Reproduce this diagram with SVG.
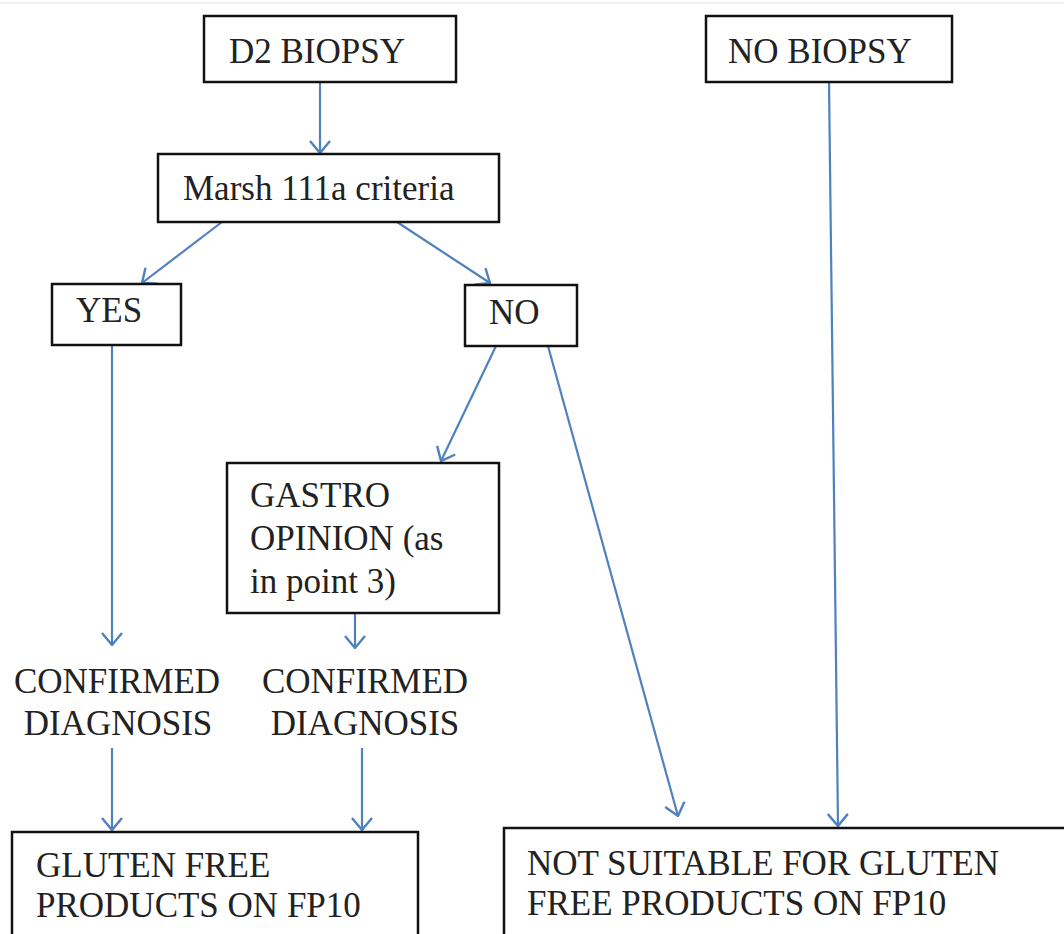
<svg xmlns="http://www.w3.org/2000/svg" width="1064" height="934" viewBox="0 0 1064 934">
<defs>
<style>
.box{fill:#fff;stroke:#111;stroke-width:2.5}
.t{font-family:'Liberation Serif','DejaVu Serif',serif;font-size:35px;fill:#222}
.c{stroke:#4f81bd;stroke-width:2.2;fill:none;marker-end:url(#ah)}
</style>
<marker id="ah" viewBox="0 0 14 22" refX="13" refY="11" markerWidth="14" markerHeight="22" markerUnits="userSpaceOnUse" orient="auto">
<path d="M1,1 L13,11 L1,21" fill="none" stroke="#4f81bd" stroke-width="2.4"/>
</marker>
</defs>
<rect width="1064" height="934" fill="#fff"/>
<line x1="0" y1="3" x2="1064" y2="3" stroke="#eee" stroke-width="2"/>
<g id="connectors">
<line class="c" x1="320" y1="82" x2="320" y2="153"/>
<line class="c" x1="222" y1="222" x2="142" y2="283"/>
<line class="c" x1="397" y1="222" x2="490" y2="283"/>
<line class="c" x1="112" y1="345" x2="112" y2="645"/>
<line class="c" x1="496" y1="346" x2="441" y2="461"/>
<line class="c" x1="548" y1="346" x2="678" y2="816"/>
<line class="c" x1="355" y1="613" x2="355" y2="648"/>
<line class="c" x1="112" y1="748" x2="112" y2="830"/>
<line class="c" x1="362" y1="748" x2="362" y2="830"/>
<line class="c" x1="829" y1="82" x2="838" y2="826"/>
</g>
<g id="d2biopsy">
<rect class="box" x="204" y="16" width="252" height="66"/>
<text class="t" x="229" y="63" font-family="Liberation Serif">D2 BIOPSY</text>
</g>
<g id="nobiopsy">
<rect class="box" x="706" y="16" width="246" height="66"/>
<text class="t" x="728" y="63">NO BIOPSY</text>
</g>
<g id="marsh">
<rect class="box" x="158" y="154" width="341" height="68"/>
<text class="t" x="183" y="200">Marsh 111a criteria</text>
</g>
<g id="yes">
<rect class="box" x="52" y="284" width="129" height="61"/>
<text class="t" x="76" y="322">YES</text>
</g>
<g id="no">
<rect class="box" x="465" y="285" width="112" height="61"/>
<text class="t" x="489" y="324">NO</text>
</g>
<g id="gastro">
<rect class="box" x="227" y="463" width="272" height="150"/>
<text class="t" x="250" y="507">GASTRO</text>
<text class="t" x="250" y="550">OPINION (as</text>
<text class="t" x="250" y="593">in point 3)</text>
</g>
<g id="confirmed1">
<text class="t" x="117" y="693" text-anchor="middle">CONFIRMED</text>
<text class="t" x="118" y="735" text-anchor="middle">DIAGNOSIS</text>
</g>
<g id="confirmed2">
<text class="t" x="365" y="693" text-anchor="middle">CONFIRMED</text>
<text class="t" x="365" y="735" text-anchor="middle">DIAGNOSIS</text>
</g>
<g id="glutenfree">
<rect class="box" x="12" y="832" width="406" height="120"/>
<text class="t" x="36" y="877">GLUTEN FREE</text>
<text class="t" x="36" y="917">PRODUCTS ON FP10</text>
</g>
<g id="notsuitable">
<rect class="box" x="504" y="828" width="580" height="120"/>
<text class="t" x="527" y="875">NOT SUITABLE FOR GLUTEN</text>
<text class="t" x="527" y="915">FREE PRODUCTS ON FP10</text>
</g>
</svg>
